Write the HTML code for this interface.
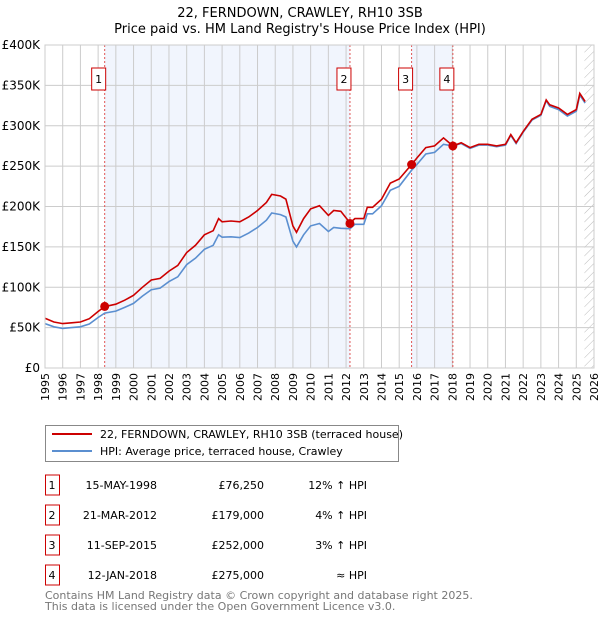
<!DOCTYPE html>
<html><head><meta charset="utf-8"><style>
body{margin:0;background:#fff;font-family:"Liberation Sans","DejaVu Sans",sans-serif}
svg text{font-family:"DejaVu Sans","Liberation Sans",sans-serif}
</style></head><body>
<svg id="c" width="600" height="620" xmlns="http://www.w3.org/2000/svg">
<defs><pattern id="hatch" width="6" height="6" patternUnits="userSpaceOnUse" patternTransform="rotate(45)"><line x1="0" y1="0" x2="0" y2="6" stroke="#bbb" stroke-width="1"/></pattern></defs>
<text x="300" y="17" text-anchor="middle" font-size="13">22, FERNDOWN, CRAWLEY, RH10 3SB</text>
<text x="300" y="33" text-anchor="middle" font-size="13">Price paid vs. HM Land Registry's House Price Index (HPI)</text>
<g id="plot"></g>
<g>
<rect x="45.5" y="425.5" width="353" height="36" fill="#fff" stroke="#888"/>
<line x1="52" y1="434" x2="92" y2="434" stroke="#cc0000" stroke-width="2"/>
<text x="100" y="438" font-size="11">22, FERNDOWN, CRAWLEY, RH10 3SB (terraced house)</text>
<line x1="52" y1="451" x2="92" y2="451" stroke="#5b8fd0" stroke-width="2"/>
<text x="100" y="455" font-size="11">HPI: Average price, terraced house, Crawley</text>
</g>
<g id="table" font-size="11"></g>
<text x="45" y="599" font-size="11" fill="#777">Contains HM Land Registry data © Crown copyright and database right 2025.</text>
<text x="45" y="610" font-size="11" fill="#777">This data is licensed under the Open Government Licence v3.0.</text>
</svg>
<script>
const years=[1995,1995.5,1996,1996.5,1997,1997.5,1998,1998.37,1999,1999.5,2000,2000.5,2001,2001.5,2002,2002.5,2003,2003.5,2004,2004.5,2004.8,2005,2005.5,2006,2006.5,2007,2007.5,2007.8,2008.3,2008.6,2009,2009.2,2009.6,2010,2010.5,2011,2011.3,2011.7,2012.22,2012.5,2013,2013.2,2013.5,2014,2014.5,2015,2015.7,2016,2016.5,2017,2017.5,2018.03,2018.5,2019,2019.5,2020,2020.5,2021,2021.3,2021.6,2022,2022.5,2023,2023.3,2023.5,2024,2024.5,2025,2025.2,2025.5];
const priceSeries=[61.5,57,55,56,57,61,70,76,79,84,90,100,109,111,120,127,143,152,165,170,185,181,182,181,187,195,205,215,213,209,176,168,185,197,201,189,195,194,179.7,185,185,199,199,209,229,234,252,260,273,275,285,275,279,273,277,277,275,277,289,279,293,308,314,332,326,322,314,320,340,330];
const hpiSeries=[55,51,49,50,51,54.5,62.5,68,70.5,75,80,89,97,99,107,113,128,136,147,152,165,162,162.5,161.5,167,174,183,192,190,187,157,150,165,176,179,169,174,173,172.5,178,178,191,191,201,220,225,245,252,265,267,277,275,278,272,276,276,274,276,288,278,292,307,313,331,324,320,312,318,338,328];
const saleNums=["1","2","3","4"];
const saleYears=[1998.37,2012.22,2015.7,2018.03];
const salePrices=[76.25,179,252,275];
const saleDates=["15-MAY-1998","21-MAR-2012","11-SEP-2015","12-JAN-2018"];
const saleLabels=["£76,250","£179,000","£252,000","£275,000"];
const saleHpi=["12% ↑ HPI","4% ↑ HPI","3% ↑ HPI","≈ HPI"];
const yTicks=[0,50,100,150,200,250,300,350,400];
const yTickLabels=["£0","£50K","£100K","£150K","£200K","£250K","£300K","£350K","£400K"];
const NS="http://www.w3.org/2000/svg";
const L=45,R=594,T=45,B=368,X0=1995,X1=2026;
const xs=y=>L+(y-X0)/(X1-X0)*(R-L);
const ys=v=>B-v/400*(B-T);
const g=document.getElementById('plot');
function mk(tag,at,parent){const e=document.createElementNS(NS,tag);for(const k in at)e.setAttribute(k,at[k]);(parent||g).appendChild(e);return e;}
// shaded ranges
for(let i=0;i<saleYears.length;i+=2){
 const r=mk('rect',{x:xs(saleYears[i]),y:T,width:xs(saleYears[i+1])-xs(saleYears[i]),height:B-T,fill:'#eef3fc',opacity:0.8});
 
 
}
const h=mk('rect',{x:xs(2025.46),y:T,width:R-xs(2025.46),height:B-T,fill:'url(#hatch)'});


for(let y=X0;y<=X1;y++){
 const l=mk('line',{x1:xs(y),x2:xs(y),y1:T,y2:B,stroke:'#ccc','stroke-width':1});
 
 
 const t=mk('text',{x:0,y:0,'font-size':11,'text-anchor':'end',transform:`translate(${xs(y)+4},${B+5}) rotate(-90)`});
 t.textContent=y;
 
 
}
yTicks.forEach((v,i)=>{
 const l=mk('line',{x1:L,x2:R,y1:ys(v),y2:ys(v),stroke:'#ccc','stroke-width':1});
 
 
 const t=mk('text',{x:L-5,y:ys(v)+4,'font-size':12,'text-anchor':'end'});
 t.textContent=yTickLabels[i];
 
 
});
saleYears.forEach((y,i)=>{
 const l=mk('line',{x1:xs(y),x2:xs(y),y1:T,y2:B,stroke:'#e05555','stroke-width':1,'stroke-dasharray':'2,2'});
 
 
 const bx=mk('rect',{x:xs(y)-7-6,y:68,width:14,height:22,fill:'#fff',stroke:'#cc0000'});
 
 
 const t=mk('text',{x:xs(y)-6,y:83,'font-size':11,'text-anchor':'middle'});
 t.textContent=saleNums[i];
 
 
});
function line(arr,col,name){
 const p=mk('path',{d:arr.map((v,i)=>(i?'L':'M')+xs(years[i]).toFixed(1)+','+ys(v).toFixed(1)).join(''),fill:'none',stroke:col,'stroke-width':1.6});
 
 
}
line(hpiSeries,'#5b8fd0','hpi-line');
line(priceSeries,'#cc0000','price-line');
saleYears.forEach((y,i)=>{
 const c=mk('circle',{cx:xs(y),cy:ys(salePrices[i]),r:4.5,fill:'#cc0000'});
 
 
});
const fr=mk('rect',{x:L,y:T,width:R-L,height:B-T,fill:'none',stroke:'#ccc'});


const tb=document.getElementById('table');
saleNums.forEach((n,i)=>{
 const y0=475+i*30;
 const b=mk('rect',{x:45.5,y:y0,width:14,height:20,fill:'#fff',stroke:'#cc0000'},tb);
 
 
 const cells=[[52,'middle',n],[157,'end',saleDates[i]],[264,'end',saleLabels[i]],[367,'end',saleHpi[i]]];
 cells.forEach(c=>{
  const t=mk('text',{x:c[0],y:y0+14,'text-anchor':c[1],'font-size':11},tb);
  t.textContent=c[2];
  
  
 });
});
</script>
</body></html>
